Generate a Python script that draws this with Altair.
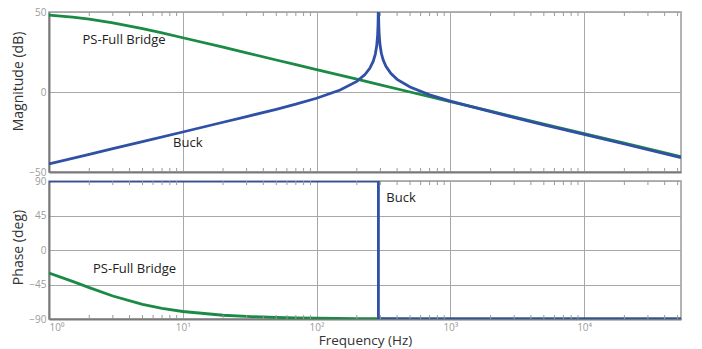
import altair as alt
import pandas as pd

# ---- data ----
freq_buck = [1, 2, 3, 5, 10, 20, 30, 50, 70, 100, 150, 200, 230, 250, 265, 275, 282, 286, 288, 289,
             289.6, 290.4, 291, 292, 294, 298, 305, 315, 330, 360, 400, 500, 700, 1000, 2000, 5000,
             10000, 20000, 53000]
buck_mag = [-45.0, -39.0, -35.4, -31.0, -25.0, -18.9, -15.4, -10.8, -7.6, -3.9, 1.2, 6.6, 10.9, 14.8,
            19.1, 23.7, 29.3, 35.4, 41.4, 47.5, 55.4, 55.4, 47.5, 41.5, 35.5, 29.5, 24.2, 19.9, 16.0,
            11.5, 7.9, 3.1, -1.8, -5.7, -12.3, -20.5, -26.5, -32.5, -41.0]

freq_pfb = [1, 1.5, 2, 3, 5, 7, 10, 20, 30, 50, 70, 100, 200, 300, 500, 1000, 2000, 5000, 10000,
            20000, 53000]
pfb_mag = [48.0, 46.8, 45.6, 43.2, 39.6, 36.9, 33.9, 28.0, 24.5, 20.0, 17.1, 14.0, 8.0, 4.5, 0.0,
           -6.0, -12.0, -20.0, -26.0, -32.0, -40.5]
pfb_phase = [-30.0, -40.9, -49.1, -60.0, -70.9, -76.1, -80.2, -85.1, -86.7, -88.0, -88.6, -89.0,
             -89.5, -89.7, -89.8, -89.9, -90.0, -90.0, -90.0, -90.0, -90.0]

freq_buck_phase = [1, 290, 290, 53000]
buck_phase = [90, 90, -90, -90]
buck_phase_order = [0, 1, 2, 3]

decades = [1, 10, 100, 1000, 10000]
minor_ticks = [2, 3, 4, 5, 6, 7, 8, 9,
               20, 30, 40, 50, 60, 70, 80, 90,
               200, 300, 400, 500, 600, 700, 800, 900,
               2000, 3000, 4000, 5000, 6000, 7000, 8000, 9000,
               20000, 30000, 40000, 50000]

mag_labels = ["PS-Full Bridge", "Buck"]
mag_label_f = [3.64, 10.9]
mag_label_v = [32.5, -32.0]
ph_labels = ["Buck", "PS-Full Bridge"]
ph_label_f = [428, 4.36]
ph_label_v = [68, -25]

# ---- styling ----
W = 632
H_TOP = 160
H_BOT = 138
GREEN = "#1b8a45"
BLUE = "#3050a6"
FONT = "Open Sans"

x_scale = alt.Scale(type="log", domain=[1, 53000], nice=False)
sup = ("datum.value == 1 ? '10\u2070' : datum.value == 10 ? '10\u00b9' : "
       "datum.value == 100 ? '10\u00b2' : datum.value == 1000 ? '10\u00b3' : '10\u2074'")

x_top = alt.X("f:Q", scale=x_scale,
              axis=alt.Axis(values=decades, labels=False, ticks=False, domain=True, grid=True, title=None))
x_bot = alt.X("f:Q", scale=x_scale,
              axis=alt.Axis(values=decades, labelExpr=sup, ticks=False, domain=True, grid=True,
                            title="Frequency  (Hz)", labelPadding=3, titlePadding=1,
                            titleFontSize=13.5))

y_top = alt.Y("v:Q", scale=alt.Scale(domain=[-50, 50], nice=False),
              axis=alt.Axis(values=[-50, 0, 50], title="Magnitude (dB)", ticks=False, grid=True,
                            labelPadding=3, titlePadding=3, titleY=69))
y_bot = alt.Y("v:Q", scale=alt.Scale(domain=[-90, 90], nice=False),
              axis=alt.Axis(values=[-90, -45, 0, 45, 90], title="Phase (deg)", ticks=False, grid=True,
                            labelPadding=3, titlePadding=3, titleY=66))

df_buck = pd.DataFrame({"f": freq_buck, "v": buck_mag})
df_pfb_mag = pd.DataFrame({"f": freq_pfb, "v": pfb_mag})
df_pfb_ph = pd.DataFrame({"f": freq_pfb, "v": pfb_phase})
df_buck_ph = pd.DataFrame({"f": freq_buck_phase, "v": buck_phase, "o": buck_phase_order})
df_minor = pd.DataFrame({"f": minor_ticks})
df_mag_lab = pd.DataFrame({"f": mag_label_f, "v": mag_label_v, "t": mag_labels})
df_ph_lab = pd.DataFrame({"f": ph_label_f, "v": ph_label_v, "t": ph_labels})


def minor_layers(x_enc, h):
    base = alt.Chart(df_minor).mark_rule(color="#9a9a9a", strokeWidth=1)
    return [
        base.encode(x=x_enc, y=alt.value(0), y2=alt.value(4)),
        base.encode(x=x_enc, y=alt.value(h - 4), y2=alt.value(h)),
    ]


top = alt.layer(
    alt.Chart(df_pfb_mag).mark_line(color=GREEN, strokeWidth=2.8, clip=True).encode(x=x_top, y=y_top),
    alt.Chart(df_buck).mark_line(color=BLUE, strokeWidth=2.8, clip=True).encode(x=x_top, y=y_top),
    *minor_layers(x_top, H_TOP),
    alt.Chart(df_mag_lab).mark_text(font=FONT, fontSize=13, color="#222").encode(x=x_top, y=y_top, text="t:N"),
).properties(width=W, height=H_TOP)

bottom = alt.layer(
    alt.Chart(df_pfb_ph).mark_line(color=GREEN, strokeWidth=2.8, clip=True).encode(x=x_bot, y=y_bot),
    alt.Chart(df_buck_ph).mark_line(color=BLUE, strokeWidth=2.8, clip=True).encode(
        x=x_bot, y=y_bot, order="o:Q"),
    *minor_layers(x_bot, H_BOT),
    alt.Chart(df_ph_lab).mark_text(font=FONT, fontSize=13, color="#222").encode(x=x_bot, y=y_bot, text="t:N"),
).properties(width=W, height=H_BOT)

chart = alt.vconcat(top, bottom, spacing=9, bounds="flush").configure_view(
    stroke="#9a9a9a", strokeWidth=1.5
).configure_axis(
    labelFont=FONT, labelFontSize=10, labelColor="#9b9b9b",
    titleFont=FONT, titleFontSize=14, titleColor="#333", titleFontWeight="normal",
    gridColor="#a8a8a8", gridWidth=1, domainColor="#7a7a7a", domainWidth=2,
).properties(padding={"left": 11, "top": 6, "right": 5, "bottom": 0})

chart.save("out.html", embed_options={"renderer": "svg", "actions": False})
